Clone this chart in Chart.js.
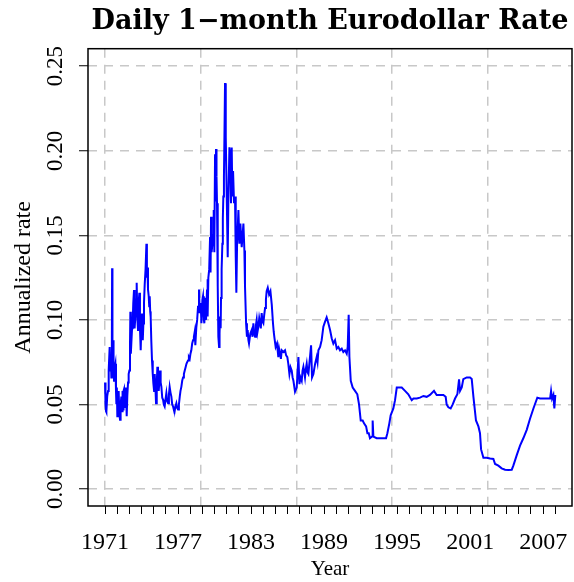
<!DOCTYPE html>
<html><head><meta charset="utf-8">
<script src="https://cdn.jsdelivr.net/npm/chart.js@4.4.1/dist/chart.umd.min.js"></script>
<style>html,body{margin:0;padding:0;background:#fff}#wrap{width:574px;height:582px}</style>
</head><body><div id="wrap"><canvas id="c" width="574" height="582"></canvas></div>
<script>
const years = [
1971.00,1971.04,1971.08,1971.11,1971.18,1971.25,1971.30,1971.38,1971.43,1971.47,1971.52,1971.56,1971.58,1971.61,1971.66,1971.70,1971.74,1971.80,1971.85,1971.90,1971.93,1971.97,
1972.01,1972.06,1972.12,1972.17,1972.23,1972.28,1972.34,1972.40,1972.44,1972.48,1972.52,1972.56,1972.61,1972.67,1972.72,1972.78,1972.83,1972.89,1972.94,
1973.00,1973.05,1973.08,1973.12,1973.16,1973.22,1973.27,1973.32,1973.38,1973.43,1973.49,1973.55,1973.60,1973.66,1973.71,1973.76,1973.82,1973.87,1973.93,1973.98,
1974.04,1974.10,1974.15,1974.20,1974.26,1974.33,1974.40,1974.44,1974.48,1974.53,1974.59,1974.63,1974.67,1974.71,1974.75,1974.80,1974.86,1974.92,1974.97,
1975.03,1975.08,1975.14,1975.19,1975.25,1975.30,1975.35,1975.41,1975.47,1975.52,1975.57,1975.63,1975.70,1975.77,1975.83,1975.90,1975.97,
1976.04,1976.11,1976.18,1976.25,1976.31,1976.38,1976.45,1976.52,1976.59,1976.65,1976.72,1976.79,1976.86,1976.93,
1977.00,1977.07,1977.14,1977.20,1977.27,1977.34,1977.41,1977.48,1977.55,1977.62,1977.69,1977.75,1977.82,1977.89,1977.96,
1978.02,1978.09,1978.16,1978.23,1978.30,1978.37,1978.42,1978.50,1978.57,1978.64,1978.72,1978.78,1978.86,1978.92,
1979.00,1979.05,1979.12,1979.16,1979.23,1979.30,1979.38,1979.41,1979.45,1979.49,1979.56,1979.63,1979.67,1979.71,1979.76,1979.82,1979.88,1979.93,1979.98,
1980.04,1980.08,1980.12,1980.16,1980.20,1980.26,1980.31,1980.37,1980.41,1980.45,1980.50,1980.53,1980.58,1980.64,1980.68,1980.72,1980.77,1980.81,1980.86,1980.92,
1981.00,1981.08,1981.13,1981.22,1981.30,1981.35,1981.41,1981.46,1981.52,1981.60,1981.68,1981.74,1981.79,1981.85,1981.96,
1982.04,1982.12,1982.23,1982.37,1982.45,1982.50,1982.59,1982.66,1982.72,1982.78,1982.83,1982.94,
1983.05,1983.12,1983.19,1983.26,1983.33,1983.40,1983.46,1983.53,1983.60,1983.67,1983.74,1983.80,1983.87,1983.94,
1984.01,1984.08,1984.15,1984.22,1984.28,1984.37,1984.48,1984.59,1984.70,1984.80,1984.86,1984.91,
1985.02,1985.13,1985.24,1985.30,1985.38,1985.45,1985.52,1985.65,1985.79,1985.88,1985.98,
1986.06,1986.15,1986.24,1986.34,1986.41,1986.48,1986.61,1986.75,1986.89,1986.97,
1987.06,1987.16,1987.23,1987.30,1987.43,1987.50,1987.57,1987.64,1987.71,1987.84,1987.93,
1988.01,1988.12,1988.19,1988.26,1988.39,1988.46,1988.53,1988.67,1988.80,1988.94,
1989.08,1989.21,1989.35,1989.49,1989.63,1989.76,1989.90,
1990.04,1990.17,1990.31,1990.45,1990.58,1990.72,1990.86,1990.94,
1991.02,1991.08,1991.19,1991.35,1991.54,1991.73,1991.87,
1992.01,1992.17,1992.28,1992.45,1992.56,1992.67,1992.77,1992.94,1992.99,
1993.05,1993.32,1993.60,1993.87,
1994.09,1994.20,1994.36,1994.47,1994.69,1994.83,1994.97,
1995.10,1995.38,1995.65,1995.92,
1996.20,1996.34,1996.61,1996.88,
1997.16,1997.43,1997.70,
1998.03,1998.25,1998.53,1998.80,1998.99,
1999.07,1999.21,1999.40,1999.57,1999.76,1999.95,
2000.09,2000.17,2000.31,2000.44,2000.72,2000.99,
2001.13,2001.27,2001.48,2001.68,2001.81,2001.90,
2002.09,2002.36,2002.64,2002.91,
2003.05,2003.32,2003.59,2003.87,
2004.14,2004.42,2004.55,2004.83,
2005.10,2005.37,2005.65,2005.92,
2006.20,2006.52,2006.74,
2007.02,2007.29,2007.57,2007.65,2007.73,2007.84,2007.92,2008.00
];
const rates = [
.063,.050,.046,.0455,.055,.058,.070,.084,.070,.078,.066,.085,.1305,.080,.088,.070,.064,.072,.074,.058,.0507,.060,
.043,.052,.058,.045,.041,.050,.0546,.046,.058,.047,.058,.059,.048,.0507,.060,.043,.055,.063,.068,
.070,.085,.1048,.080,.086,.095,.0978,.110,.1176,.095,.1018,.112,.122,.100,.094,.110,.116,.095,.082,.095,
.1038,.088,.0978,.110,.121,.130,.145,.125,.131,.118,.114,.108,.114,.105,.1018,.088,.076,.068,.0626,
.058,.068,.060,.0507,.062,.0723,.062,.058,.064,.070,.063,.0604,.054,.0527,.050,.0488,.053,
.0567,.052,.0507,.056,.0604,.057,.0546,.050,.0488,.047,.046,.049,.0507,.048,
.047,.050,.0546,.058,.0604,.064,.066,.068,.070,.072,.074,.075,.076,.078,.077,
.080,.082,.086,.088,.090,.093,.085,.0955,.100,.1078,.118,.104,.110,.098,
.112,.114,.100,.098,.113,.100,.118,.124,.102,.125,.130,.149,.128,.161,.140,.145,.150,.165,.140,
.198,.170,.201,.185,.169,.120,.090,.084,.092,.102,.095,.113,.130,.145,.160,.173,.185,.208,.240,.208,
.173,.137,.169,.202,.196,.169,.202,.173,.188,.169,.173,.137,.116,.145,.165,
.145,.157,.143,.157,.141,.120,.098,.090,.094,.088,.086,.092,
.094,.090,.098,.092,.090,.097,.100,.093,.096,.101,.098,.095,.104,.099,
.098,.103,.107,.112,.117,.119,.115,.117,.109,.098,.093,.090,
.084,.086,.078,.083,.080,.077,.082,.081,.082,.079,.078,
.074,.068,.072,.070,.066,.064,.0575,.060,.078,.062,
.066,.064,.070,.0723,.066,.071,.074,.069,.068,.078,.085,
.066,.068,.071,.074,.078,.075,.082,.084,.088,.096,
.099,.1015,.098,.094,.089,.086,.088,
.083,.084,.082,.083,.081,.082,.080,.084,
.103,.078,.064,.060,.058,.056,.050,
.0405,.0405,.0388,.037,.033,.033,.030,.031,.0405,
.031,.030,.030,.030,
.030,.033,.0388,.0436,.0476,.0525,.060,
.060,.060,.058,.056,
.0525,.0535,.0535,.054,
.055,.0545,.0556,
.058,.0556,.0556,.0556,.0545,
.050,.0483,.0476,.050,.0535,.056,
.0648,.058,.060,.065,.066,.066,
.065,.0545,.0405,.037,.033,.0234,
.0185,.0185,.018,.0178,
.0148,.0138,.0122,.0114,
.0112,.0114,.0138,.020,
.0256,.030,.035,.0415,
.0476,.054,.0535,
.0535,.0535,.0535,.058,.0535,.0556,.0476,.0556
];
const xTickYears = [1971,1972,1973,1974,1975,1976,1977,1978,1979,1980,1981,1982,1983,1984,1985,1986,1987,1988,1989,1990,1991,1992,1993,1994,1995,1996,1997,1998,1999,2000,2001,2002,2003,2004,2005,2006,2007,2008];
const xLabelYears = [1971,1977,1983,1989,1995,2001,2007];
const xGridYears = [1971,1978.89,1986.78,1994.58,2002.47];
const yTicks = [0,0.05,0.10,0.15,0.20,0.25];

const X_MIN = 1969.6, X_MAX = 2009.37, Y_MIN = -0.01006, Y_MAX = 0.26036;

const bg = {id:'bg', beforeDraw(c){const x=c.ctx; x.save(); x.fillStyle='#fff'; x.fillRect(0,0,c.width,c.height); x.restore();}};
const frame = {id:'frame', afterDraw(c){const x=c.ctx, a=c.chartArea; x.save(); x.strokeStyle='#000'; x.lineWidth=1.5; x.strokeRect(a.left, a.top, a.right-a.left, a.bottom-a.top); x.restore();}};

new Chart(document.getElementById('c'), {
  type: 'line',
  data: { datasets: [{
    data: years.map((v,i)=>({x:v, y:rates[i]})),
    borderColor: '#0000ff', borderWidth: 2, pointRadius: 0, tension: 0, fill: false
  }]},
  options: {
    responsive: false, animation: false, devicePixelRatio: 1,
    layout: { padding: { left: 0, right: 2, top: 0, bottom: 0 } },
    plugins: {
      legend: { display: false }, tooltip: { enabled: false },
      title: { display: true, fullSize: false, text: 'Daily 1\u2212month Eurodollar Rate', color: '#000',
        font: { family: 'DejaVu Serif', size: 27, weight: 'bold', lineHeight: 1.1 }, padding: { top: 7, bottom: 12 } }
    },
    scales: {
      x: {
        type: 'linear', position: 'bottom', min: X_MIN, max: X_MAX,
        afterBuildTicks: s => { s.ticks = xTickYears.map(v => ({ value: v })); },
        afterFit: s => { s.height = 76; },
        ticks: { autoSkip: false, maxRotation: 0, minRotation: 0, padding: 14, color: '#000',
          font: { family: 'Liberation Serif', size: 24 },
          callback: v => xLabelYears.includes(v) ? String(v) : '' },
        grid: { drawOnChartArea: false, drawTicks: true, tickLength: 8, tickColor: '#000', tickWidth: 1, color: 'rgba(0,0,0,0)' },
        border: { display: false },
        title: { display: true, text: 'Year', color: '#000', font: { family: 'Liberation Serif', size: 21 }, padding: { top: 0, bottom: 0 } }
      },
      xg: {
        type: 'linear', position: 'bottom', min: X_MIN, max: X_MAX,
        afterBuildTicks: s => { s.ticks = xGridYears.map(v => ({ value: v })); },
        afterFit: s => { s.height = 0; },
        ticks: { display: false },
        grid: { drawTicks: false, color: '#c8c8c8', lineWidth: 1.5 },
        border: { display: false, dash: [9, 7] }
      },
      y: {
        type: 'linear', position: 'left', min: Y_MIN, max: Y_MAX,
        afterBuildTicks: s => { s.ticks = yTicks.map(v => ({ value: v })); },
        afterFit: s => { s.width = 88; },
        ticks: { minRotation: 90, maxRotation: 90, crossAlign: 'center', padding: 3, color: '#000',
          font: { family: 'Liberation Serif', size: 23 }, callback: v => v.toFixed(2) },
        grid: { color: '#c8c8c8', lineWidth: 1.5, tickLength: 9, tickColor: '#000', tickWidth: 1, tickBorderDash: [] },
        border: { display: false, dash: [9, 7] },
        title: { display: true, text: 'Annualized rate', color: '#000', font: { family: 'Liberation Serif', size: 24 }, padding: { top: 9, bottom: 0 } }
      }
    }
  },
  plugins: [bg, frame]
});
</script></body></html>
